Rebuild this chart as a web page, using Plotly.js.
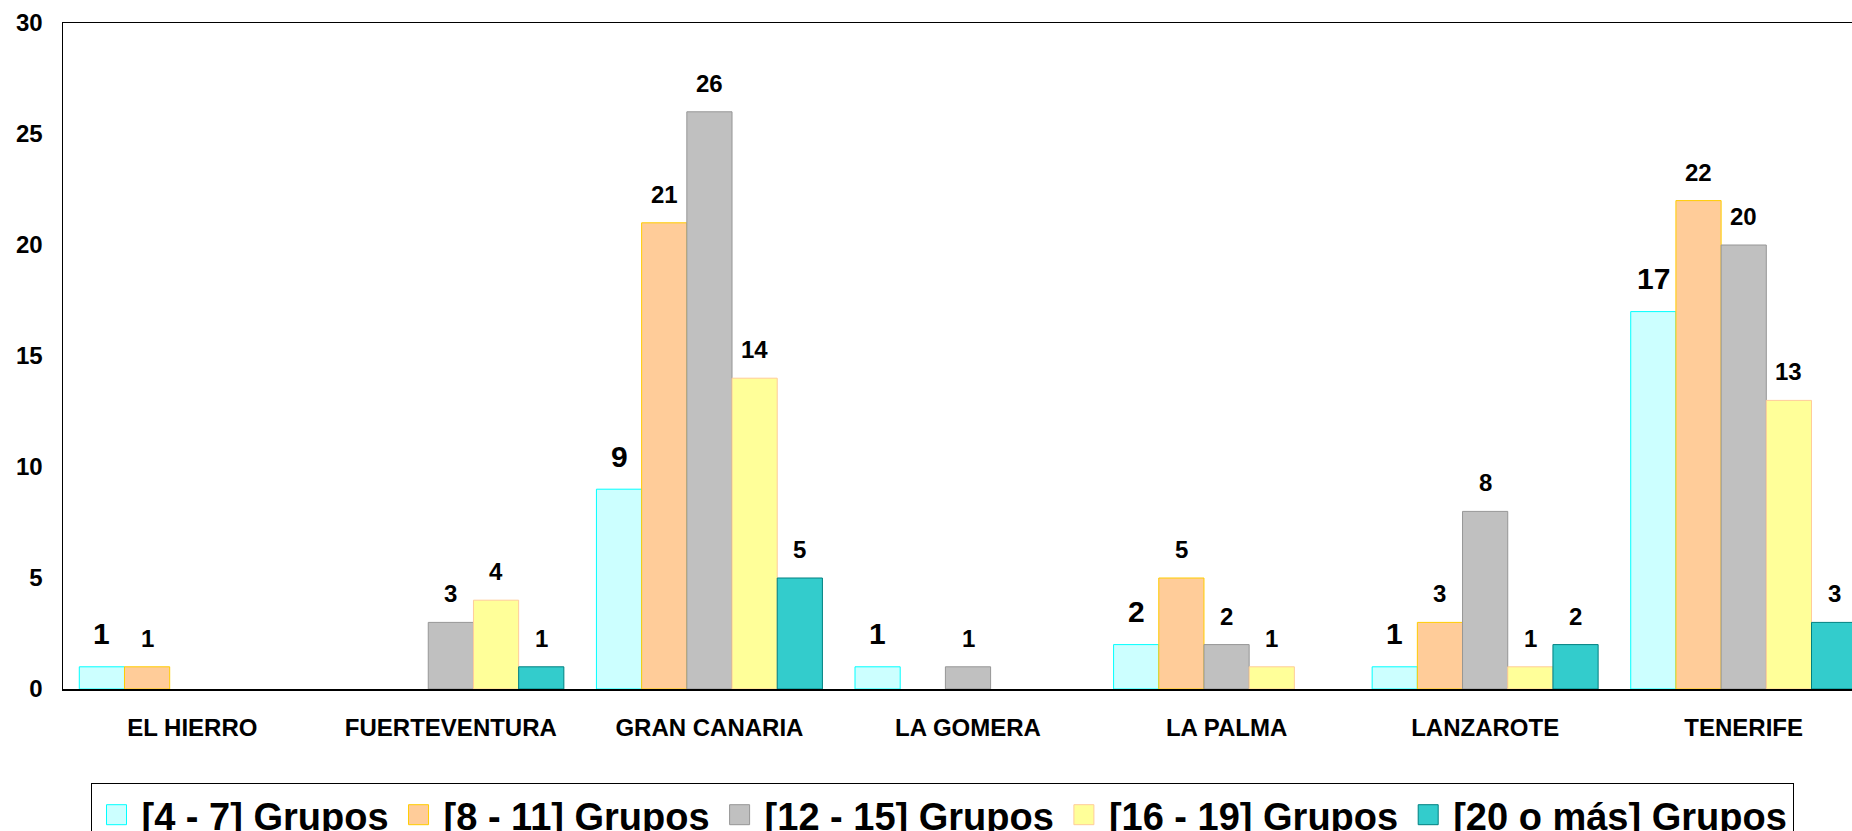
<!DOCTYPE html>
<html>
<head>
<meta charset="utf-8">
<script src="https://cdn.plot.ly/plotly-3.0.1.min.js"></script>
<style>
  html, body { margin: 0; padding: 0; background: #fff; overflow: hidden; }
  #chart { width: 1900px; height: 831px; }
</style>
</head>
<body>
<div id="chart"></div>
<script>
// ---- data ----
const categories = ['EL HIERRO', 'FUERTEVENTURA', 'GRAN CANARIA', 'LA GOMERA', 'LA PALMA', 'LANZAROTE', 'TENERIFE'];
const seriesNames = ['[4 - 7] Grupos', '[8 - 11] Grupos', '[12 - 15] Grupos', '[16 - 19] Grupos', '[20 o más] Grupos'];
const grupos4a7   = [1, null, 9, 1, 2, 1, 17];
const grupos8a11  = [1, null, 21, null, 5, 3, 22];
const grupos12a15 = [null, 3, 26, 1, 2, 8, 20];
const grupos16a19 = [null, 4, 14, null, 1, 1, 13];
const grupos20mas = [null, 1, 5, null, null, 2, 3];
const yTickValues = [0, 5, 10, 15, 20, 25, 30];

// ---- styles ----
const seriesValues = [grupos4a7, grupos8a11, grupos12a15, grupos16a19, grupos20mas];
const fills   = ['#CCFFFF', '#FFCC99', '#C0C0C0', '#FFFF99', '#33CCCC'];
const borders = ['#00FFFF', '#FFCC00', '#969696', '#FFCC99', '#008080'];
const FONT = 'Liberation Sans, Arial, sans-serif';
const BARGAP = 0.126;

const traces = seriesValues.map((vals, i) => ({
  type: 'bar',
  name: seriesNames[i],
  x: categories,
  y: vals,
  marker: { color: fills[i], line: { color: borders[i], width: 1 } },
  hoverinfo: 'x+y+name'
}));

const annotations = [];
const nSeries = seriesValues.length;
const slot = (1 - BARGAP) / nSeries;
seriesValues.forEach((vals, i) => {
  vals.forEach((v, j) => {
    if (v === null) return;
    annotations.push({
      x: j + (i - (nSeries - 1) / 2) * slot,
      y: v,
      xref: 'x', yref: 'y',
      text: String(v),
      showarrow: false,
      xanchor: 'center', yanchor: 'middle',
      yshift: i === 0 ? 33 : 28.5,
      font: { family: FONT, size: i === 0 ? 30 : 24, color: '#000', weight: 'bold' }
    });
  });
});

const layout = {
  width: 1900,
  height: 831,
  margin: { l: 63, r: 27, t: 23, b: 142 },
  paper_bgcolor: '#fff',
  plot_bgcolor: '#fff',
  barmode: 'group',
  bargap: BARGAP,
  bargroupgap: 0,
  showlegend: true,
  font: { family: FONT, color: '#000' },
  xaxis: {
    type: 'category',
    range: [-0.5, 6.5],
    showline: true, mirror: true, linecolor: '#000', linewidth: 1.5,
    showgrid: false, zeroline: false,
    ticks: '', ticklabelstandoff: 17,
    tickfont: { family: FONT, size: 24, color: '#000', weight: 'bold' }
  },
  yaxis: {
    range: [0, 30],
    tickvals: yTickValues,
    ticktext: yTickValues.map(String),
    showline: true, mirror: true, linecolor: '#000', linewidth: 1.5,
    showgrid: false, zeroline: false,
    ticks: '', ticklabelstandoff: 14,
    tickfont: { family: FONT, size: 24, color: '#000', weight: 'bold' }
  },
  legend: {
    orientation: 'h',
    xref: 'container', yref: 'container',
    x: 90.5 / 1900, y: (831 - 782.5) / 831,
    xanchor: 'left', yanchor: 'top',
    itemwidth: 40,
    bgcolor: '#fff',
    bordercolor: '#000', borderwidth: 1,
    font: { family: FONT, size: 38, color: '#000', weight: 'bold' },
    traceorder: 'normal'
  },
  annotations: annotations
};

Plotly.newPlot('chart', traces, layout, { displayModeBar: false, staticPlot: true }).then(() => {
  document.querySelectorAll('#chart .legend .legendpoints path').forEach(p => {
    p.setAttribute('d', 'M10,10H-10V-10H10Z');
  });
});
</script>
</body>
</html>
